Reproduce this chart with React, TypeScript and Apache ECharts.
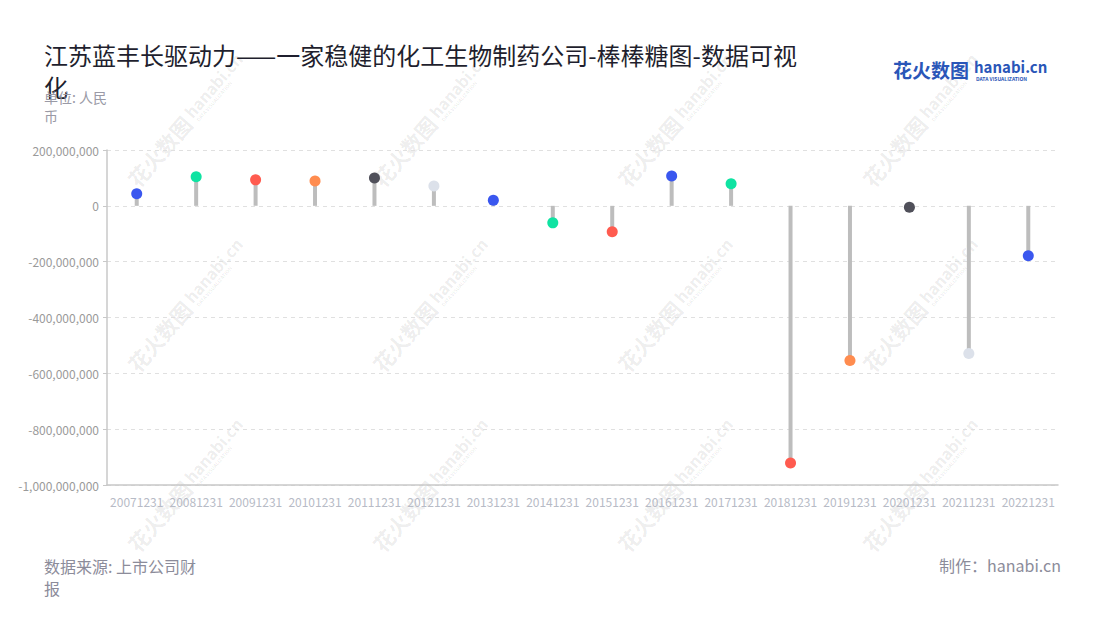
import React, { useEffect, useRef } from "react";
import * as echarts from "echarts";

const categories = [
  "20071231", "20081231", "20091231", "20101231", "20111231", "20121231", "20131231", "20141231",
  "20151231", "20161231", "20171231", "20181231", "20191231", "20201231", "20211231", "20221231",
];
const values = [
  43000000, 104000000, 93000000, 89000000, 100000000, 71000000, 20000000, -61000000,
  -93000000, 107000000, 79000000, -921000000, -554000000, -5000000, -529000000, -179000000,
];
const dotColors = [
  "#3a57ef", "#0fe3a2", "#ff5b4f", "#ff8c4f", "#50505a", "#dce1ea", "#3a57ef", "#0fe3a2",
  "#ff5b4f", "#3a57ef", "#0fe3a2", "#ff5b4f", "#ff8c4f", "#50505a", "#dce1ea", "#3a57ef",
];
const titleText = "江苏蓝丰长驱动力——一家稳健的化工生物制药公司-棒棒糖图-数据可视化";
const unitText = "单位: 人民币";
const sourceText = "数据来源: 上市公司财报";
const makerText = "制作：hanabi.cn";

const FONT = '"Noto Sans CJK SC", "Noto Sans", sans-serif';

const wmCols = [132, 377, 622, 867];
const wmRows = [183, 368, 548];

export default function App() {
  const ref = useRef<HTMLDivElement>(null);
  useEffect(() => {
    if (!ref.current) return;
    const chart = echarts.init(ref.current, null, { renderer: "svg" });
    const wmColor = "rgba(0,0,0,0.085)";
    const watermarks: any[] = [];
    wmRows.forEach((y) =>
      wmCols.forEach((x) => {
        watermarks.push({
          type: "group",
          x,
          y,
          rotation: (49 * Math.PI) / 180,
          silent: true,
          z: 0,
          children: [
            {
              type: "text",
              x: 0,
              y: 0,
              style: {
                text: "花火数图",
                fill: wmColor,
                font: `bold 21px ${FONT}`,
                verticalAlign: "middle",
              },
            },
            {
              type: "text",
              x: 88,
              y: -3,
              style: {
                text: "hanabi.cn",
                fill: wmColor,
                font: `bold 16px ${FONT}`,
                verticalAlign: "middle",
              },
            },
            {
              type: "text",
              x: 90,
              y: 8,
              style: {
                text: "DATA VISUALIZATION",
                fill: wmColor,
                font: `bold 5px ${FONT}`,
                verticalAlign: "middle",
              },
            },
          ],
        });
      })
    );
    chart.setOption({
      animation: false,
      backgroundColor: "#ffffff",
      grid: { left: 107, right: 42, top: 150, bottom: 135 },
      xAxis: {
        type: "category",
        data: categories,
        axisLine: { onZero: false, lineStyle: { color: "#c8c8c8", width: 1.5 } },
        axisTick: { alignWithLabel: true, lineStyle: { color: "#c8c8c8" }, length: 4 },
        axisLabel: { color: "#b7bbc6", fontSize: 12, fontFamily: FONT, interval: 0, margin: 10 },
      },
      yAxis: {
        type: "value",
        min: -1000000000,
        max: 200000000,
        interval: 200000000,
        axisLine: { show: true, lineStyle: { color: "#c8c8c8", width: 1.5 } },
        axisTick: { show: true, length: 4, lineStyle: { color: "#c8c8c8" } },
        axisLabel: {
          color: "#9a9a9a",
          fontSize: 12,
          fontFamily: FONT,
          formatter: (v: number) => v.toLocaleString("en-US"),
        },
        splitLine: { lineStyle: { color: "#e0e0e0", type: [4, 4] } },
      },
      series: [
        {
          type: "bar",
          data: values,
          barWidth: 4,
          itemStyle: { color: "#bdbdbd" },
          z: 2,
        },
        {
          type: "scatter",
          data: values.map((v, i) => ({ value: v, itemStyle: { color: dotColors[i], opacity: 1 } })),
          symbolSize: 11,
          itemStyle: { opacity: 1 },
          z: 3,
        },
      ],
      graphic: [
        ...watermarks,
        {
          type: "text",
          left: 44,
          top: 38,
          style: {
            text: titleText,
            width: 785,
            overflow: "break",
            lineHeight: 32,
            fill: "#1f1f2e",
            font: `24px ${FONT}`,
          },
          z: 10,
        },
        {
          type: "text",
          left: 44,
          top: 87,
          style: {
            text: unitText,
            width: 74,
            overflow: "break",
            lineHeight: 19,
            fill: "#9a9aa6",
            font: `14px ${FONT}`,
          },
          z: 11,
        },
        {
          type: "text",
          left: 893,
          top: 60,
          style: { text: "花火数图", fill: "#2a56b8", font: `bold 19px ${FONT}` },
          z: 10,
        },
        {
          type: "text",
          left: 974,
          top: 59,
          style: { text: "hanabi.cn", fill: "#2a56b8", font: `bold 15px ${FONT}` },
          z: 10,
        },
        {
          type: "text",
          left: 976,
          top: 76,
          style: { text: "DATA VISUALIZATION", fill: "#2a56b8", font: `bold 5px ${FONT}` },
          z: 10,
        },
        {
          type: "text",
          left: 44,
          top: 555,
          style: {
            text: sourceText,
            width: 156,
            overflow: "break",
            lineHeight: 22,
            fill: "#8c8c9a",
            font: `16px ${FONT}`,
          },
          z: 10,
        },
        {
          type: "text",
          right: 39,
          top: 557,
          style: { text: makerText, fill: "#8c8c9a", font: `16px ${FONT}` },
          z: 10,
        },
      ],
    });
    return () => chart.dispose();
  }, []);
  return <div ref={ref} style={{ width: 1100, height: 620, margin: -8 }} />;
}
